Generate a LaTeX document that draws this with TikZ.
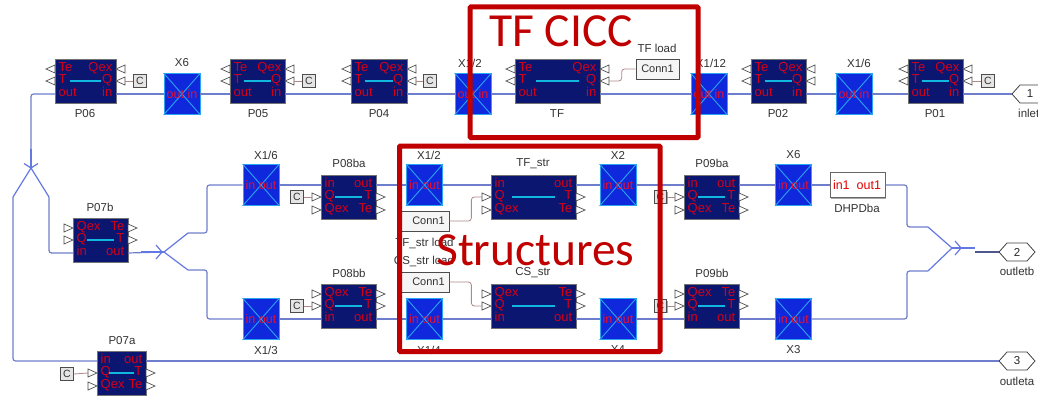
\documentclass[tikz,border=0pt]{standalone}
\usepackage{fontspec}
\setmainfont{Liberation Sans}
\newfontfamily\calloutfont{Carlito}
\usetikzlibrary{shadows}
\definecolor{navy}{HTML}{0B1670}
\definecolor{portred}{HTML}{D40018}
\definecolor{xblue}{HTML}{1028DC}
\definecolor{xcyan}{HTML}{28A4F0}
\definecolor{xtext}{HTML}{E8102C}
\definecolor{innerc}{HTML}{10B8E0}
\definecolor{wire}{HTML}{6F7ECC}
\definecolor{forkc}{HTML}{6478E4}
\definecolor{rose}{HTML}{B08888}
\definecolor{callout}{HTML}{C00000}
\tikzset{
  x=1pt,y=-1pt,
  blockbox/.style={draw=black!55,fill=navy,line width=.8pt,inner sep=0pt,minimum height=44pt},
  porttext/.style={text=portred,font=\fontsize{13}{13}\selectfont,inner sep=0pt},
  crossbox/.style={draw=xcyan,fill=xblue,line width=.9pt,inner sep=0pt,minimum width=36pt,minimum height=41pt},
  crossline/.style={draw=xcyan,line width=.9pt},
  crosstext/.style={text=xtext,font=\fontsize{12.5}{13}\selectfont,inner sep=0pt},
  lbl/.style={text=black!80,font=\fontsize{11.5}{12}\selectfont,inner sep=0pt},
  porttri/.style={draw=black!70,fill=white,line width=.7pt,line join=miter},
  wireline/.style={draw=wire,line width=1.2pt,rounded corners=2.5pt},
  forkline/.style={draw=forkc,line width=1.2pt},
  roseline/.style={draw=rose,line width=.8pt,rounded corners=3pt},
  cbox/.style={draw=black!70,fill=black!10,line width=.7pt,minimum width=12.5pt,minimum height=12.5pt,inner sep=0pt,
    font=\fontsize{10.5}{11}\selectfont,text=black!80,
    drop shadow={shadow xshift=1pt,shadow yshift=-1pt,opacity=.35,fill=black}},
  connbox/.style={draw=black!70,fill=black!4,line width=.7pt,minimum height=20pt,inner sep=0pt,
    font=\fontsize{11}{12}\selectfont,text=black!80,
    drop shadow={shadow xshift=1pt,shadow yshift=-1pt,opacity=.35,fill=black}},
  hexport/.style={draw=black!75,fill=white,line width=.8pt},
  hextext/.style={font=\fontsize{11.5}{12}\selectfont,text=black!85,inner sep=0pt,minimum width=36pt,minimum height=18pt},
  redframe/.style={draw=callout,line width=5pt,rounded corners=1pt},
  bigtext/.style={text=callout,inner sep=0pt,anchor=base west,font=\calloutfont\fontsize{47.5}{48}\selectfont},
}
% name, x0, x1, ytop, rows, dir (l or r), first triangle row
\newcommand\pblk[7]{%
  \pgfmathsetmacro\cxv{(#2+#3)/2}%
  \pgfmathsetmacro\wv{#3-#2}%
  \pgfmathsetmacro\mv{(#3-#2)/4}%
  \node[blockbox,minimum width=\wv pt] (#1) at (\cxv,#4+22) {};
  \foreach \lt/\rt [count=\r] in {#5} {
    \pgfmathsetmacro\yy{#4+(\r==1?10:(\r==2?22:35))}
    \coordinate (#1-L\r) at (#2,\yy);
    \coordinate (#1-R\r) at (#3,\yy);
    \node[porttext,anchor=mid west] (#1-lt\r) at (#2+3.5,\yy) {\lt};
    \node[porttext,anchor=mid east] (#1-rt\r) at (#3-3.5,\yy) {\rt};
  }
  \draw[draw=innerc,line width=1.4pt] (#2+\mv,#4+22) -- (#3-\mv,#4+22);
  \foreach \r in {#7,\numexpr#7+1\relax} {
    \pgfmathsetmacro\yy{#4+(\r==1?10:(\r==2?22:35))}
    \if#6l
      \draw[porttri] (#2,\yy-4) -- (#2-9,\yy) -- (#2,\yy+4) -- cycle;
      \draw[porttri] (#3+9,\yy-4) -- (#3,\yy) -- (#3+9,\yy+4) -- cycle;
    \else
      \draw[porttri] (#2-9,\yy-4) -- (#2,\yy) -- (#2-9,\yy+4) -- cycle;
      \draw[porttri] (#3,\yy-4) -- (#3+9,\yy) -- (#3,\yy+4) -- cycle;
    \fi
  }
  \if#6l
    \coordinate (#1-Qp) at (#3+9,#4+22);
  \else
    \coordinate (#1-Qp) at (#2-9,#4+22);
  \fi
}
% name, cx, cy, text
\newcommand\xblk[4]{%
  \node[crossbox] (#1) at (#2,#3) {};
  \draw[crossline] (#1.north west) -- (#1.south east);
  \draw[crossline] (#1.north east) -- (#1.south west);
  \node[crosstext] (#1-t) at (#2,#3) {#4};
}
% name, cx, cy, text
\newcommand\hexp[4]{%
  \draw[hexport] (#2-18,#3) -- (#2-10,#3-9) -- (#2+10,#3-9) -- (#2+18,#3) -- (#2+10,#3+9) -- (#2-10,#3+9) -- cycle;
  \node[hextext] (#1) at (#2,#3) {#4};
}
\begin{document}
\begin{tikzpicture}
\useasboundingbox (0,0) rectangle (1038,396);
\clip (0,0) rectangle (1038,396);
\fill[white] (0,0) rectangle (1038,396);

% top row
\pblk{P06}{55}{116}{59}{Te/Qex,T/Q,out/in}{l}{1}
\pblk{P05}{230}{285}{59}{Te/Qex,T/Q,out/in}{l}{1}
\pblk{P04}{351}{407}{59}{Te/Qex,T/Q,out/in}{l}{1}
\pblk{TF}{515}{600}{59}{Te/Qex,T/Q,out/in}{l}{1}
\pblk{P02}{751}{806}{59}{Te/Qex,T/Q,out/in}{l}{1}
\pblk{P01}{908}{963}{59}{Te/Qex,T/Q,out/in}{l}{1}
\xblk{XA}{182}{94}{out in}
\xblk{XB}{473}{94}{out in}
\xblk{XC}{709}{94}{out in}
\xblk{XD}{854}{94}{out in}
\node[lbl] (lP06) at (85,113.5) {P06};
\node[lbl] (lP05) at (258,113.5) {P05};
\node[lbl] (lP04) at (379,113.5) {P04};
\node[lbl] (lTF) at (557,113.5) {TF};
\node[lbl] (lP02) at (778,113.5) {P02};
\node[lbl] (lP01) at (935,113.5) {P01};
\node[lbl] (lXA) at (182,63) {X6};
\node[lbl] (lXB) at (470,63) {X1/2};
\node[lbl] (lXC) at (711,63) {X1/12};
\node[lbl] (lXD) at (859,63) {X1/6};
\node[cbox] (cP06) at (140,81) {C};
\node[cbox] (cP05) at (309,81) {C};
\node[cbox] (cP04) at (430,81) {C};
\node[cbox] (cP01) at (988,81) {C};
\node[connbox,minimum width=43pt] (connTF) at (657.5,69) {Conn1};
\node[lbl] (lTFload) at (657,48) {TF load};
\hexp{inlet}{1030}{94}{1}
\node[lbl,anchor=west] (linlet) at (1018,113) {inlet};

% middle rows
\pblk{P07b}{73}{128}{218}{Qex/Te,Q/T,in/out}{r}{1}
\pblk{P07a}{97}{146}{351}{in/out,Q/T,Qex/Te}{r}{2}
\pblk{P08ba}{321}{376}{175}{in/out,Q/T,Qex/Te}{r}{2}
\pblk{P08bb}{321}{376}{284}{Qex/Te,Q/T,in/out}{r}{1}
\pblk{TFs}{491}{576}{175}{in/out,Q/T,Qex/Te}{r}{2}
\pblk{CSs}{491}{576}{284}{Qex/Te,Q/T,in/out}{r}{1}
\pblk{P09ba}{684}{739}{175}{in/out,Q/T,Qex/Te}{r}{2}
\pblk{P09bb}{684}{739}{284}{Qex/Te,Q/T,in/out}{r}{1}
\xblk{XE}{261}{185}{in out}
\xblk{XF}{261}{319}{in out}
\xblk{XG}{424.5}{185}{in out}
\xblk{XH}{424.5}{319}{in out}
\xblk{XI}{618}{185}{in out}
\xblk{XJ}{618}{319}{in out}
\xblk{XK}{793.5}{185}{in out}
\xblk{XL}{793.5}{319}{in out}
\node[draw=black!60,fill=white,line width=.8pt,inner sep=0pt,minimum width=55pt,minimum height=25pt,
  drop shadow={shadow xshift=1pt,shadow yshift=-1pt,opacity=.35,fill=black}] (DH) at (857.5,185) {};
\node[text=red!90!black,font=\fontsize{12.5}{13}\selectfont,inner sep=0pt] (DHt) at (857,185) {in1\hspace{7pt}out1};

\node[lbl] (lP07b) at (100,207) {P07b};
\node[lbl] (lP07a) at (122,341) {P07a};
\node[lbl] (lP08ba) at (349,163.5) {P08ba};
\node[lbl] (lP08bb) at (349,273) {P08bb};
\node[lbl] (lTFs) at (533,164) {TF\_str};
\node[lbl] (lCSs) at (533,273) {CS\_str};
\node[lbl] (lP09ba) at (712,163.5) {P09ba};
\node[lbl] (lP09bb) at (712,273) {P09bb};
\node[lbl] (lXE) at (266,155) {X1/6};
\node[lbl] (lXF) at (266,350) {X1/3};
\node[lbl] (lXG) at (429,155) {X1/2};
\node[lbl] (lXH) at (429,350) {X1/4};
\node[lbl] (lXI) at (618,155) {X2};
\node[lbl] (lXJ) at (618,350) {X4};
\node[lbl] (lXK) at (793.5,155) {X6};
\node[lbl] (lXL) at (793.5,350) {X3};
\node[lbl] (lDH) at (857,208) {DHPDba};
\node[cbox] (cP08ba) at (297,197) {C};
\node[cbox] (cP08bb) at (297,306) {C};
\node[cbox] (cP09ba) at (660.5,197) {C};
\node[cbox] (cP09bb) at (660.5,306) {C};
\node[cbox] (cP07a) at (67,374) {C};
\node[connbox,minimum width=50pt] (connT) at (424,221) {\hspace{9pt}Conn1};
\node[connbox,minimum width=50pt] (connC) at (424,282) {\hspace{9pt}Conn1};
\node[lbl] (lTFsl) at (424.5,243) {TF\_str load};
\node[lbl] (lCSsl) at (424,261) {CS\_str load};
\hexp{out2}{1017}{252}{2}
\hexp{out3}{1017}{361}{3}
\node[lbl] (lout2) at (1017,271) {outletb};
\node[lbl] (lout3) at (1017,381) {outleta};

% coordinates of the forks
\coordinate (forkA) at (31,168);
\coordinate (forkAl) at (13,197);
\coordinate (forkAr) at (49,197);
\coordinate (forkB) at (164,252);
\coordinate (forkBu) at (188,233);
\coordinate (forkBd) at (188,270);
\coordinate (forkC) at (952,248);
\coordinate (forkCu) at (928,227);
\coordinate (forkCd) at (928,271);
\coordinate (forkCe) at (975,248);

% wires, top row
\draw[wireline] (inlet.west) -- (P01-R3);
\draw[wireline] (P01-L3) -- (XD.east);
\draw[wireline] (XD.west) -- (P02-R3);
\draw[wireline] (P02-L3) -- (XC.east);
\draw[wireline] (XC.west) -- (TF-R3);
\draw[wireline] (TF-L3) -- (XB.east);
\draw[wireline] (XB.west) -- (P04-R3);
\draw[wireline] (P04-L3) -- (P05-R3);
\draw[wireline] (P05-L3) -- (XA.east);
\draw[wireline] (XA.west) -- (P06-R3);
\draw[wireline] (P06-L3) -| (31,149);
\draw[forkline] (31,149) -- (forkA);
\draw[forkline] (24,163.5) -- (forkA) -- (38,163.5);
\draw[forkline] (forkAl) -- (forkA) -- (forkAr);
\draw[wireline] (forkAl) |- (P07a-L1);
\draw[wireline] (forkAr) |- (P07b-L3);
% wires, middle
\draw[wireline] (P07b-R3) -- (forkB);
\draw[forkline] (141,252) -- (forkB);
\draw[forkline] (156,245) -- (162,252) -- (156,259);
\draw[forkline] (forkBu) -- (forkB) -- (forkBd);
\draw[wireline] (forkBu) -- (207,233) |- (XE.west);
\draw[wireline] (forkBd) -- (207,270) |- (XF.west);
\draw[wireline] (XE.east) -- (P08ba-L1);
\draw[wireline] (XF.east) -- (P08bb-L3);
\draw[wireline] (P08ba-R1) -- (XG.west);
\draw[wireline] (P08bb-R3) -- (XH.west);
\draw[wireline] (XG.east) -- (TFs-L1);
\draw[wireline] (XH.east) -- (CSs-L3);
\draw[wireline] (TFs-R1) -- (XI.west);
\draw[wireline] (CSs-R3) -- (XJ.west);
\draw[wireline] (XI.east) -- (P09ba-L1);
\draw[wireline] (XJ.east) -- (P09bb-L3);
\draw[wireline] (P09ba-R1) -- (XK.west);
\draw[wireline] (P09bb-R3) -- (XL.west);
\draw[wireline] (XK.east) -- (DH.west);
\draw[wireline] (DH.east) -| (907,227) -- (forkCu);
\draw[wireline] (XL.east) -| (907,271) -- (forkCd);
\draw[forkline] (forkCu) -- (forkC) -- (forkCd);
\draw[forkline] (forkC) -- (forkCe);
\draw[forkline] (955,241) -- (961,248) -- (955,255);
\draw[wireline,draw=wire!70!black] (975,252) -- (out2.west);
\draw[wireline] (P07a-R1) -- (out3.west);

% signal connectors
\draw[roseline] (cP06.west) -- (P06-Qp);
\draw[roseline] (cP05.west) -- (P05-Qp);
\draw[roseline] (cP04.west) -- (P04-Qp);
\draw[roseline] (cP01.west) -- (P01-Qp);
\draw[roseline] (cP08ba.east) -- (P08ba-Qp);
\draw[roseline] (cP08bb.east) -- (P08bb-Qp);
\draw[roseline] (cP09ba.east) -- (P09ba-Qp);
\draw[roseline] (cP09bb.east) -- (P09bb-Qp);
\draw[roseline] (cP07a.east) -- (P07a-Qp);
\draw[roseline] (connTF.west) -- ++(-14,0) |- (TF-Qp);
\draw[roseline] (connT.east) -- ++(22,0) |- (TFs-Qp);
\draw[roseline] (connC.east) -- ++(22,0) |- (CSs-Qp);

% callouts
\draw[redframe] (470,7) rectangle (698,137.5);
\draw[redframe] (399.5,146) rectangle (660,351.5);
\node[bigtext] (tfc) at (489,47) {TF CICC};
\node[bigtext] (str) at (436,265) {Structures};
\end{tikzpicture}
\end{document}
